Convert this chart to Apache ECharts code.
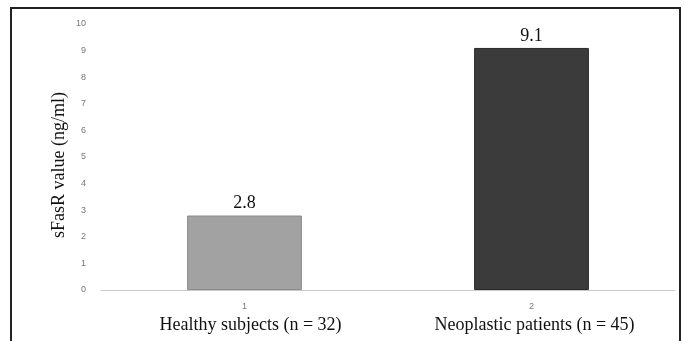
<!DOCTYPE html>
<html><head><meta charset="utf-8">
<script src="https://cdn.jsdelivr.net/npm/echarts@6/dist/echarts.min.js"></script>
<style>html,body{margin:0;padding:0;background:#fff}#c{width:684px;height:341px}</style>
</head><body><div id="c"></div>
<script>
const categories = ['Healthy subjects (n = 32)', 'Neoplastic patients (n = 45)'];
const categoryNumbers = ['1', '2'];
const values = [2.8, 9.1];
const yTicks = [0, 1, 2, 3, 4, 5, 6, 7, 8, 9, 10];
const yAxisTitle = 'sFasR value (ng/ml)';
const barColors = ['#a2a2a2', '#3b3b3b'];
const barBorders = ['#8a8a8a', '#2a2a2a'];

const chart = echarts.init(document.getElementById('c'));
chart.setOption({
  animation: false,
  backgroundColor: '#fff',
  graphic: [{
    type: 'rect', shape: { x: 11, y: 8, width: 669, height: 345 },
    style: { fill: 'none', stroke: '#222', lineWidth: 2 }, silent: true
  }],
  grid: { left: 101, right: 9, top: 24, bottom: 51, containLabel: false, outerBoundsMode: 'none' },
  xAxis: {
    type: 'category',
    data: categories,
    axisLine: { lineStyle: { color: '#c8c8c8', width: 1 } },
    axisTick: { show: false },
    axisLabel: {
      margin: 10,
      formatter: function (v, i) { return '{n|' + categoryNumbers[i] + '}\n{t' + i + '|' + v + '}'; },
      rich: {
        n: { fontFamily: 'Liberation Sans', fontSize: 9, color: '#777', lineHeight: 14 },
        t0: { fontFamily: 'Liberation Serif', fontSize: 18, color: '#111', lineHeight: 22, padding: [0, 0, 0, 12] },
        t1: { fontFamily: 'Liberation Serif', fontSize: 18, color: '#111', lineHeight: 22, padding: [0, 0, 0, 6] }
      }
    }
  },
  yAxis: {
    type: 'value', min: 0, max: 10, interval: 1,
    name: yAxisTitle, nameLocation: 'middle', nameGap: 33, nameMoveOverlap: false,
    nameTextStyle: { fontFamily: 'Liberation Serif', fontSize: 18, color: '#111', padding: [0, 16, 0, 0] },
    axisLine: { show: false }, axisTick: { show: false },
    splitLine: { show: false },
    axisLabel: {
      margin: 15, fontFamily: 'Liberation Sans', fontSize: 9, color: '#777',
      formatter: function (v) { return yTicks.indexOf(v) >= 0 ? String(v) : ''; }
    }
  },
  series: [{
    type: 'bar',
    barWidth: '40%',
    data: values.map(function (v, i) {
      return { value: v, itemStyle: { color: barColors[i], borderColor: barBorders[i], borderWidth: 1 } };
    }),
    label: {
      show: true, position: 'top', distance: 3,
      fontFamily: 'Liberation Serif', fontSize: 18, color: '#111'
    }
  }]
});
</script></body></html>
